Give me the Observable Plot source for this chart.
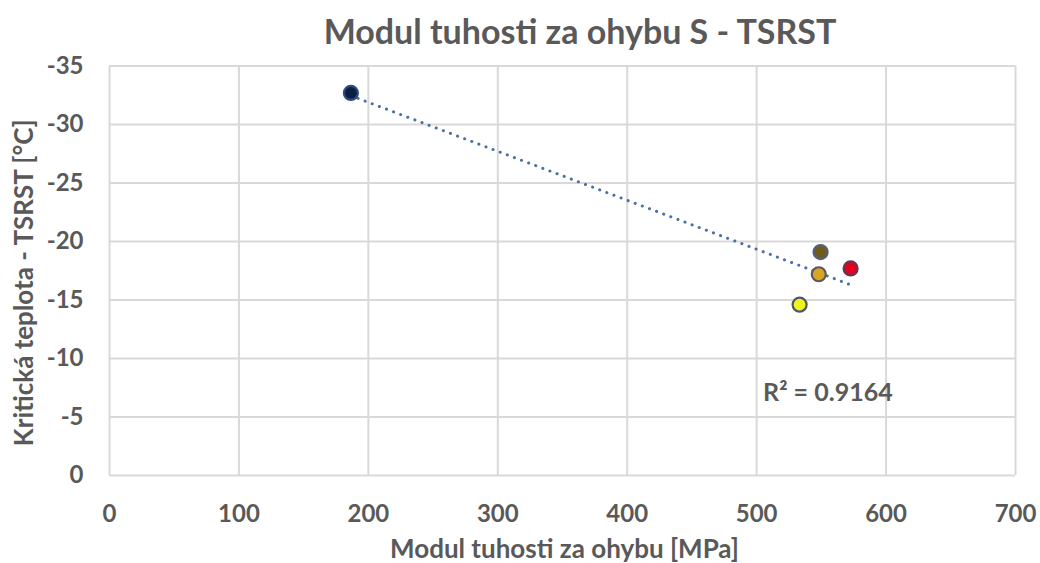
<!DOCTYPE html>
<html>
<head>
<meta charset="utf-8">
<script src="https://cdn.jsdelivr.net/npm/d3@7"></script>
<script src="https://cdn.jsdelivr.net/npm/@observablehq/plot@0.6"></script>
<style>
  html, body { margin: 0; padding: 0; background: #fff; }
  #wrap { width: 1040px; height: 563px; position: relative; font-family: Lato, "Open Sans", sans-serif; }
  #title { height: 55px; line-height: 62px; text-align: center; padding-left: 120px; box-sizing: border-box; width: 1040px;
           font-size: 34px; font-weight: bold; color: #595959; white-space: nowrap; }
</style>
</head>
<body>
<div id="wrap">
  <div id="title">Modul tuhosti za ohybu S - TSRST</div>
  <div id="chart"></div>
</div>
<script>
const modulus = [186.5, 549.4, 548.0, 572.6, 533.2];           // MPa
const critTemp = [-32.7, -19.1, -17.2, -17.7, -14.6];         // °C
const fills = ["#0b1f45", "#6e5c18", "#d8a524", "#e4001c", "#f2f21c"];
const strokes = ["#2e4a7a", "#55607a", "#5a5a5a", "#6a3450", "#4a5a6a"];
const xTicks = [0, 100, 200, 300, 400, 500, 600, 700];
const yTicks = [0, -5, -10, -15, -20, -25, -30, -35];
const r2Label = "R² = 0.9164";
const xLabel = "Modul tuhosti za ohybu [MPa]";
const yLabel = "Kritická teplota - TSRST [°C]";

const data = modulus.map((x, i) => ({x, y: critTemp[i], fill: fills[i], stroke: strokes[i]}));

const chart = Plot.plot({
  width: 1040,
  height: 508,
  marginTop: 10.5,
  marginBottom: 88,
  marginLeft: 109,
  marginRight: 25,
  style: {fontFamily: "Lato, 'Open Sans', sans-serif", color: "#595959", background: "#fff"},
  x: {domain: [0, 700], ticks: xTicks, label: null},
  y: {domain: [0, -35], ticks: yTicks, label: null},
  marks: [
    Plot.gridX(xTicks, {stroke: "#d9d9d9", strokeOpacity: 1, strokeWidth: 2}),
    Plot.gridY(yTicks, {stroke: "#d9d9d9", strokeOpacity: 1, strokeWidth: 2}),
    Plot.axisX({ticks: xTicks, tickSize: 0, tickPadding: 29, fontSize: 24, fontWeight: "bold",
      tickFormat: d => String(d), label: null}),
    Plot.axisY({ticks: yTicks, tickSize: 0, tickPadding: 26, fontSize: 24, fontWeight: "bold",
      tickFormat: d => String(d), label: null}),
    Plot.text([xLabel], {frameAnchor: "bottom", text: d => d, dy: 74, dx: 2, lineAnchor: "middle",
      fontSize: 26, fontWeight: "bold", fill: "#595959"}),
    Plot.text([yLabel], {frameAnchor: "left", text: d => d, rotate: -90, dx: -85, dy: 12, lineAnchor: "middle",
      textAnchor: "middle", fontSize: 26, fontWeight: "bold", fill: "#595959"}),
    Plot.linearRegressionY(data, {x: "x", y: "y", ci: 0, stroke: "#4a6fa5", strokeWidth: 3,
      strokeDasharray: "0.1 7.5", strokeLinecap: "round"}),
    Plot.dot(data, {x: "x", y: "y", r: 7, fill: "fill", stroke: "stroke", strokeWidth: 2.2}),
    Plot.text([r2Label], {x: 505, y: -7.05, text: d => d, textAnchor: "start", fontSize: 25,
      fontWeight: "bold", fill: "#595959"})
  ]
});
chart.style.overflow = "visible";
document.getElementById("chart").append(chart);
</script>
</body>
</html>
